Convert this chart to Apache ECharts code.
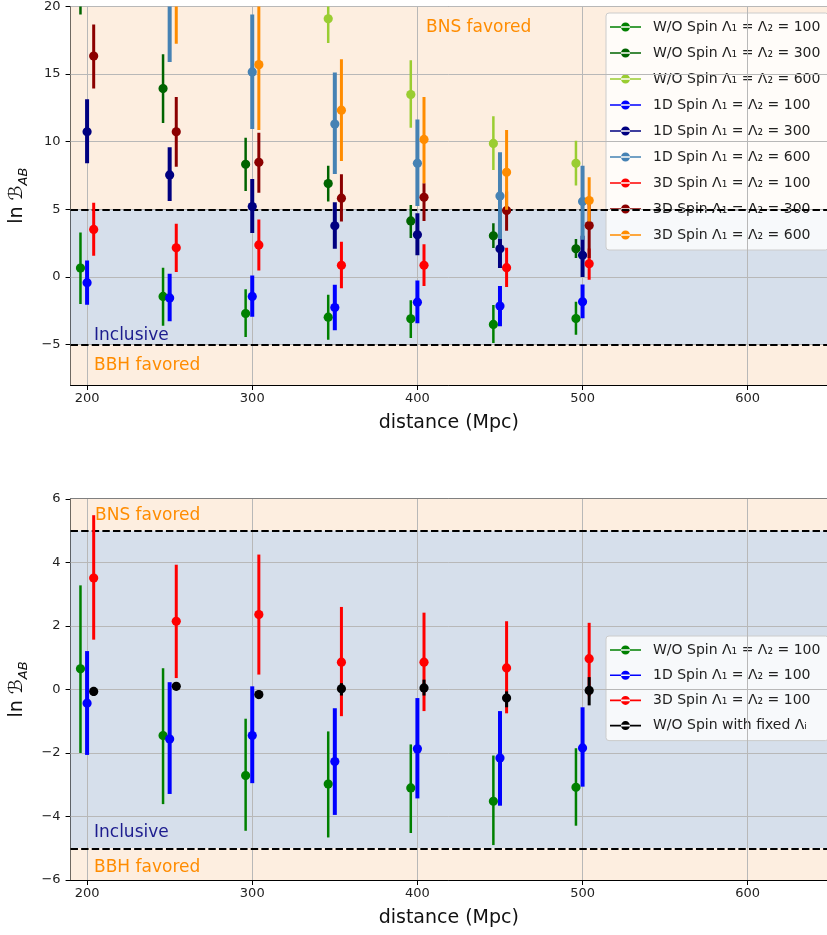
<!DOCTYPE html>
<html>
<head>
<meta charset="utf-8">
<script src="https://cdn.jsdelivr.net/npm/echarts@6/dist/echarts.min.js"></script>
<style>html,body{margin:0;padding:0;background:#fff}#c{width:827px;height:935px}</style>
</head>
<body>
<div id="c"></div>
<script>
// ---------- data ----------
const distances = [200, 250, 300, 350, 400, 450, 500];
const xTicks = [200, 300, 400, 500, 600];
const yTicksTop = [-5, 0, 5, 10, 15, 20];

// W/O Spin, Λ=100
const wo100 = [0.65, -1.45, -2.71, -2.98, -3.10, -3.52, -3.08];
const wo100Lo = [-2.00, -3.61, -4.45, -4.66, -4.52, -4.90, -4.29];
const wo100Hi = [3.28, 0.67, -0.92, -1.32, -1.73, -2.08, -1.85];
// W/O Spin, Λ=300
const wo300 = [22.0, 13.93, 8.33, 6.90, 4.14, 3.04, 2.08];
const wo300Lo = [19.4, 11.39, 6.36, 5.57, 2.87, 2.13, 1.39];
const wo300Hi = [24.6, 16.46, 10.29, 8.22, 5.32, 3.97, 2.80];
// W/O Spin, Λ=600
const wo600 = [30.0, 25.0, 23.0, 19.09, 13.49, 9.87, 8.40];
const wo600Lo = [27.0, 22.5, 21.0, 17.30, 11.03, 7.91, 6.75];
const wo600Hi = [33.0, 27.5, 25.0, 20.90, 16.02, 11.89, 10.07];
// 1D Spin, Λ=100
const d1100 = [-0.43, -1.56, -1.45, -2.27, -1.87, -2.16, -1.84];
const d1100Lo = [-2.06, -3.29, -2.95, -3.95, -3.43, -3.66, -3.06];
const d1100Hi = [1.21, 0.23, 0.10, -0.59, -0.27, -0.68, -0.56];
// 1D Spin, Λ=300
const d1300 = [10.73, 7.54, 5.20, 3.78, 3.11, 2.08, 1.59];
const d1300Lo = [8.40, 5.62, 3.24, 2.08, 1.59, 0.66, -0.01];
const d1300Hi = [13.14, 9.58, 7.24, 5.52, 4.71, 3.48, 3.04];
// 1D Spin, Λ=600
const d1600 = [28.0, 21.5, 15.16, 11.30, 8.40, 5.99, 5.57];
const d1600Lo = [24.0, 15.89, 10.93, 7.61, 5.25, 2.80, 2.74];
const d1600Hi = [32.0, 27.0, 19.40, 15.11, 11.64, 9.21, 8.22];
// 3D Spin, Λ=100
const d3100 = [3.51, 2.15, 2.36, 0.86, 0.86, 0.68, 0.97];
const d3100Lo = [1.57, 0.36, 0.47, -0.84, -0.68, -0.75, -0.21];
const d3100Hi = [5.49, 3.93, 4.25, 2.60, 2.42, 2.15, 2.10];
// 3D Spin, Λ=300
const d3300 = [16.33, 10.73, 8.47, 5.82, 5.89, 4.90, 3.80];
const d3300Lo = [13.93, 8.15, 6.23, 4.09, 4.14, 3.41, 1.39];
const d3300Hi = [18.67, 13.31, 10.66, 7.59, 6.92, 6.31, 5.40];
// 3D Spin, Λ=600
const d3600 = [28.0, 22.0, 15.70, 12.33, 10.17, 7.74, 5.64];
const d3600Lo = [24.0, 17.25, 10.86, 8.57, 6.92, 4.96, 4.09];
const d3600Hi = [32.0, 27.0, 20.50, 16.09, 13.31, 10.86, 7.37];
// W/O Spin with fixed Λ_i
const fixedL = [-0.06, 0.10, -0.16, 0.02, 0.05, -0.27, -0.03];
const fixedLo = [-0.20, -0.02, -0.30, -0.19, -0.19, -0.56, -0.50];
const fixedHi = [0.08, 0.22, -0.03, 0.20, 0.31, -0.06, 0.39];

// offsets (in Mpc) used to separate the groups
const offWO = -4, off1D = 0, off3D = 4;

// ---------- helpers ----------
const FONT = 'DejaVu Sans';
const N = {
  wo100: 'W/O Spin Λ₁ = Λ₂ = 100', wo300: 'W/O Spin Λ₁ = Λ₂ = 300', wo600: 'W/O Spin Λ₁ = Λ₂ = 600',
  d1100: '1D Spin Λ₁ = Λ₂ = 100', d1300: '1D Spin Λ₁ = Λ₂ = 300', d1600: '1D Spin Λ₁ = Λ₂ = 600',
  d3100: '3D Spin Λ₁ = Λ₂ = 100', d3300: '3D Spin Λ₁ = Λ₂ = 300', d3600: '3D Spin Λ₁ = Λ₂ = 600',
  fixed: 'W/O Spin with fixed Λᵢ'
};

function errSeries(name, color, lw, off, vals, lo, hi, gi) {
  const data = distances.map((d, i) => [d + off, vals[i], lo[i], hi[i]]);
  return {
    type: 'custom', name, xAxisIndex: gi, yAxisIndex: gi, data, clip: true, z: 5,
    itemStyle: { color },
    encode: { x: 0, y: [1, 2, 3] },
    renderItem(params, api) {
      const x = api.value(0);
      const p = api.coord([x, api.value(1)]);
      const a = api.coord([x, api.value(2)]);
      const b = api.coord([x, api.value(3)]);
      return {
        type: 'group', children: [
          { type: 'line', shape: { x1: a[0], y1: a[1], x2: b[0], y2: b[1] }, style: { stroke: color, lineWidth: lw } },
          { type: 'circle', shape: { cx: p[0], cy: p[1], r: 4.6 }, style: { fill: color } }
        ]
      };
    }
  };
}

function bgSeries(gi, ymin, ymax, hTicks) {
  const orange = '#fdeee0', blue = '#d6dfeb';
  return [{
    type: 'line', xAxisIndex: gi, yAxisIndex: gi, data: [], silent: true, z: 1,
    markArea: {
      silent: true,
      data: [
        [{ yAxis: 5, itemStyle: { color: orange } }, { yAxis: ymax }],
        [{ yAxis: -5, itemStyle: { color: blue } }, { yAxis: 5 }],
        [{ yAxis: ymin, itemStyle: { color: orange } }, { yAxis: -5 }]
      ]
    }
  }, {
    type: 'line', xAxisIndex: gi, yAxisIndex: gi, data: [], silent: true, z: 2,
    markLine: {
      silent: true, symbol: 'none', animation: false,
      label: { show: false },
      lineStyle: { color: '#b8b8b8', width: 1, type: 'solid' },
      data: xTicks.map(v => ({ xAxis: v })).concat(hTicks.map(v => ({ yAxis: v })))
    }
  }, {
    type: 'line', xAxisIndex: gi, yAxisIndex: gi, data: [], silent: true, z: 3,
    markLine: {
      silent: true, symbol: 'none', animation: false,
      label: { show: false },
      lineStyle: { color: '#000', width: 2, type: [7.4, 3.2] },
      data: [{ yAxis: 5 }, { yAxis: -5 }]
    }
  }];
}

const minusFmt = v => (v < 0 ? '\u2212' + Math.abs(v) : String(v));

function xAxisDef(gi) {
  return {
    type: 'value', gridIndex: gi, min: 190, max: 648,
    axisLine: { show: true, onZero: false, lineStyle: { color: '#000', width: 1 } },
    axisTick: { show: true, length: 5, customValues: xTicks, lineStyle: { color: '#000' } },
    axisLabel: { customValues: xTicks, color: '#222', fontSize: 13, fontFamily: FONT, margin: 7 },
    splitLine: { show: false },
    name: 'distance (Mpc)', nameLocation: 'middle', nameGap: 29,
    nameTextStyle: { fontSize: 19, fontFamily: FONT, color: '#111' }
  };
}
const yName = '{n|ln }{b|ℬ}{s|AB}';
const yNameStyle = {
  fontFamily: FONT, color: '#111',
  rich: {
    n: { fontSize: 19, fontFamily: FONT, lineHeight: 26, verticalAlign: 'middle', color: '#111' },
    b: { fontSize: 19, fontFamily: FONT, fontStyle: 'italic', lineHeight: 26, verticalAlign: 'middle', color: '#111' },
    s: { fontSize: 13, fontFamily: FONT, fontStyle: 'italic', lineHeight: 15, verticalAlign: 'bottom', color: '#111' }
  }
};

const legendCommon = {
  orient: 'vertical', left: 606,
  itemWidth: 31, itemHeight: 9,
  icon: 'path://M0,4.2H31V5.8H0Z M11,5A4.5,4.5,0,1,0,20,5A4.5,4.5,0,1,0,11,5Z',
  backgroundColor: 'rgba(255,255,255,0.8)', borderColor: '#cccccc', borderWidth: 1, borderRadius: 3,
  textStyle: { fontSize: 14, fontFamily: FONT, color: '#222', lineHeight: 16, padding: [0, 0, 0, 7] },
  selectedMode: false
};

const chart = echarts.init(document.getElementById('c'), null, { renderer: 'canvas' });
chart.setOption({
  animation: false,
  backgroundColor: '#fff',
  grid: [
    { left: 70, top: 6, width: 759, height: 379, show: true, borderColor: '#000', borderWidth: 1, backgroundColor: 'transparent' },
    { left: 70, top: 499, width: 759, height: 381, show: true, borderColor: '#000', borderWidth: 1, backgroundColor: 'transparent' }
  ],
  xAxis: [xAxisDef(0), xAxisDef(1)],
  yAxis: [
    {
      type: 'value', gridIndex: 0, min: -8, max: 20,
      axisLine: { show: true, lineStyle: { color: '#000' } },
      axisTick: { show: true, length: 5, customValues: yTicksTop, lineStyle: { color: '#000' } },
      axisLabel: { customValues: yTicksTop, formatter: minusFmt, color: '#222', fontSize: 13, fontFamily: FONT, margin: 10 },
      splitLine: { show: false },
      name: yName, nameLocation: 'middle', nameGap: 36, nameRotate: 90, nameTextStyle: yNameStyle
    },
    {
      type: 'value', gridIndex: 1, min: -6, max: 6, interval: 2,
      axisLine: { show: true, lineStyle: { color: '#000' } },
      axisTick: { show: true, length: 5, lineStyle: { color: '#000' } },
      axisLabel: { formatter: minusFmt, color: '#222', fontSize: 13, fontFamily: FONT, margin: 10 },
      splitLine: { show: false },
      name: yName, nameLocation: 'middle', nameGap: 36, nameRotate: 90, nameTextStyle: yNameStyle
    }
  ],
  legend: [
    Object.assign({}, legendCommon, {
      top: 13, itemGap: 10, padding: [6, 8, 7, 4],
      data: [N.wo100, N.wo300, N.wo600, N.d1100, N.d1300, N.d1600, N.d3100, N.d3300, N.d3600]
    }),
    Object.assign({}, legendCommon, {
      top: 636, itemGap: 9.2, padding: [6, 8, 7, 4],
      data: [N.wo100, N.d1100, N.d3100, N.fixed]
    })
  ],
  graphic: [
    { type: 'text', left: 426, top: 19, style: { text: 'BNS favored', font: '17px "DejaVu Sans"', fill: '#ff8c00' }, z: 50 },
    { type: 'text', left: 94, top: 327, style: { text: 'Inclusive', font: '17px "DejaVu Sans"', fill: '#1c1c8e' }, z: 50 },
    { type: 'text', left: 94, top: 357, style: { text: 'BBH favored', font: '17px "DejaVu Sans"', fill: '#ff8c00' }, z: 50 },
    { type: 'text', left: 95, top: 507, style: { text: 'BNS favored', font: '17px "DejaVu Sans"', fill: '#ff8c00' }, z: 50 },
    { type: 'text', left: 94, top: 824, style: { text: 'Inclusive', font: '17px "DejaVu Sans"', fill: '#1c1c8e' }, z: 50 },
    { type: 'text', left: 94, top: 859, style: { text: 'BBH favored', font: '17px "DejaVu Sans"', fill: '#ff8c00' }, z: 50 }
  ],
  series: [].concat(
    bgSeries(0, -8, 20, yTicksTop),
    bgSeries(1, -6, 6, [-4, -2, 0, 2, 4]),
    [
      errSeries(N.wo100, '#008000', 2.5, offWO, wo100, wo100Lo, wo100Hi, 0),
      errSeries(N.wo300, '#006400', 2.5, offWO, wo300, wo300Lo, wo300Hi, 0),
      errSeries(N.wo600, '#9acd32', 2.5, offWO, wo600, wo600Lo, wo600Hi, 0),
      errSeries(N.d1100, '#0000ff', 4, off1D, d1100, d1100Lo, d1100Hi, 0),
      errSeries(N.d1300, '#000080', 4, off1D, d1300, d1300Lo, d1300Hi, 0),
      errSeries(N.d1600, '#4682b4', 4, off1D, d1600, d1600Lo, d1600Hi, 0),
      errSeries(N.d3100, '#ff0000', 3, off3D, d3100, d3100Lo, d3100Hi, 0),
      errSeries(N.d3300, '#8b0000', 3, off3D, d3300, d3300Lo, d3300Hi, 0),
      errSeries(N.d3600, '#ff8c00', 3, off3D, d3600, d3600Lo, d3600Hi, 0),
      errSeries(N.wo100, '#008000', 2.5, offWO, wo100, wo100Lo, wo100Hi, 1),
      errSeries(N.d1100, '#0000ff', 4, off1D, d1100, d1100Lo, d1100Hi, 1),
      errSeries(N.d3100, '#ff0000', 3, off3D, d3100, d3100Lo, d3100Hi, 1),
      errSeries(N.fixed, '#000000', 3, off3D, fixedL, fixedLo, fixedHi, 1)
    ]
  )
});
</script>
</body>
</html>
